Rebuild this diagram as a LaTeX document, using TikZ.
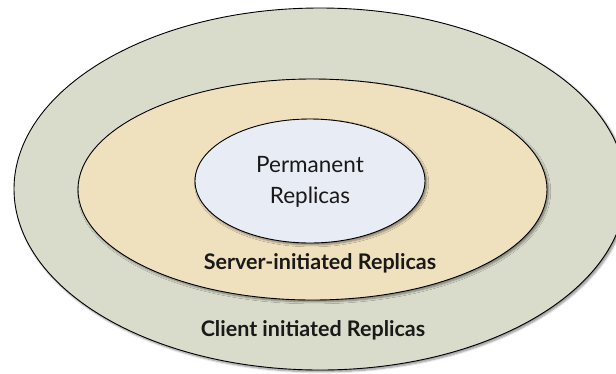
\documentclass[tikz,border=0pt]{standalone}
\usepackage{fontspec}
\setmainfont{Lato}
\usetikzlibrary{shapes.geometric,shadows.blur}

\definecolor{clientfill}{HTML}{DADCCB}
\definecolor{serverfill}{HTML}{EFE0BE}
\definecolor{permfill}{HTML}{E8ECF4}

\tikzset{
  ring/.style={ellipse, draw=black, line width=0.9pt, inner sep=0pt,
    blur shadow={shadow xshift=1.6pt, shadow yshift=-1.8pt,
                 shadow blur steps=6, shadow blur extra rounding=1pt,
                 shadow opacity=45}},
  ringlabel/.style={font=\bfseries\fontsize{21.5}{24}\selectfont, text=black!90},
  corelabel/.style={font=\fontsize{22.5}{31}\selectfont, align=center, text=black!90}
}

\begin{document}
\begin{tikzpicture}[x=1pt, y=-1pt]
  \useasboundingbox (0,0) rectangle (616,373);
  \clip (0,0) rectangle (616,373);

  % nested replica tiers
  \node[ring, fill=clientfill, minimum width=612pt, minimum height=362pt]
    (client) at (320,189) {};
  \node[ring, fill=serverfill, minimum width=469pt, minimum height=221pt]
    (server) at (312.5,189.5) {};
  \node[ring, fill=permfill, minimum width=230pt, minimum height=124pt]
    (perm) at (310,181) {};

  % labels
  \node[corelabel] (permtext) at (310,182) {Permanent\\Replicas};
  \node[ringlabel] (servertext) at (320,263) {Server-initiated Replicas};
  \node[ringlabel] (clienttext) at (313,330) {Client initiated Replicas};
\end{tikzpicture}
\end{document}
